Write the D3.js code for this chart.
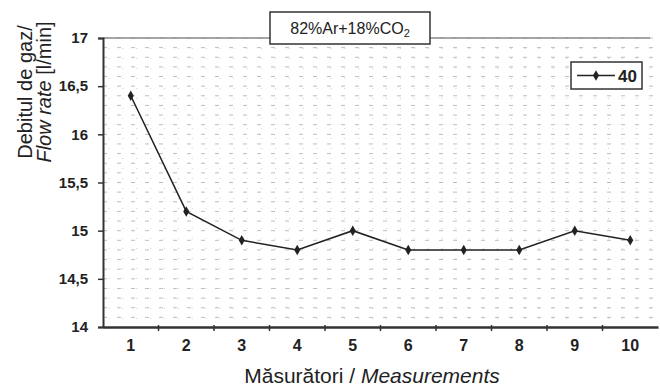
<!DOCTYPE html>
<html>
<head>
<meta charset="utf-8">
<script src="https://cdn.jsdelivr.net/npm/d3@7"></script>
<style>
  body { margin: 0; background: #fff; }
  text { font-family: "Liberation Sans", Arial, sans-serif; fill: #222; }
  .tick text { font-weight: bold; font-size: 15px; }
</style>
</head>
<body>
<svg id="chart" width="660" height="387"></svg>
<script>
// measurement numbers and flow rate readings
var measurements = [1, 2, 3, 4, 5, 6, 7, 8, 9, 10];
var flow40 = [16.4, 15.2, 14.9, 14.8, 15.0, 14.8, 14.8, 14.8, 15.0, 14.9];
var yTicks = [14, 14.5, 15, 15.5, 16, 16.5, 17];
var seriesName = "40";

var margin = {top: 38, right: 2, bottom: 60, left: 103},
    width = 660 - margin.left - margin.right,
    height = 387 - margin.top - margin.bottom;

var svg = d3.select("#chart");
var g = svg.append("g")
    .attr("transform", "translate(" + margin.left + "," + margin.top + ")");

var x = d3.scaleBand().domain(measurements).range([0, width]);
var y = d3.scaleLinear().domain([14, 17]).range([height, 0]);

// minor grid, horizontal every 0.1
var minor = d3.range(14.1, 17, 0.1);
g.selectAll("line.hgrid")
  .data(minor)
  .enter().append("line")
  .attr("class", "hgrid")
  .attr("x1", 0).attr("x2", width)
  .attr("y1", function(d) { return y(d); })
  .attr("y2", function(d) { return y(d); })
  .style("stroke", "#bdbdbd")
  .style("stroke-dasharray", "4,10");

// vertical dotted grid, a few per band
var vsteps = [];
measurements.forEach(function(m) {
  for (var k = 0; k < 4; k++) vsteps.push({m: m, k: k});
});
g.selectAll("line.vgrid")
  .data(vsteps)
  .enter().append("line")
  .attr("class", "vgrid")
  .attr("x1", function(d) { return x(d.m) + x.bandwidth() * d.k / 4 + 6; })
  .attr("x2", function(d) { return x(d.m) + x.bandwidth() * d.k / 4 + 6; })
  .attr("y1", 0).attr("y2", height)
  .style("stroke", "#d0d0d0")
  .style("stroke-dasharray", "1,9");

// top border
g.append("line")
  .attr("x1", 0).attr("x2", width - 8)
  .attr("y1", 0).attr("y2", 0)
  .style("stroke", "#888").style("stroke-width", 1.5);

// y axis
var yAxis = g.append("g")
  .call(d3.axisLeft(y).tickValues(yTicks).tickSize(5).tickPadding(10)
    .tickFormat(function(d) { return String(d).replace(".", ","); }));
yAxis.select(".domain").style("stroke", "#333").style("stroke-width", 2);
yAxis.selectAll(".tick line").style("stroke", "#333").style("stroke-width", 1.5);

// x axis
var xAxis = g.append("g")
  .attr("transform", "translate(0," + height + ")")
  .call(d3.axisBottom(x).tickSize(0).tickPadding(13));
xAxis.select(".domain").style("stroke", "#333").style("stroke-width", 2.5);
xAxis.selectAll(".tick line").remove();
xAxis.selectAll(".tick text").style("font-size", "16px");
g.selectAll("line.xtick")
  .data(measurements.slice(1))
  .enter().append("line")
  .attr("class", "xtick")
  .attr("x1", function(d) { return x(d); })
  .attr("x2", function(d) { return x(d); })
  .attr("y1", height - 2).attr("y2", height + 4)
  .style("stroke", "#333").style("stroke-width", 1.5);

// series line
var pts = measurements.map(function(m, i) { return {m: m, v: flow40[i]}; });
var line = d3.line()
  .x(function(d) { return x(d.m) + x.bandwidth() / 2; })
  .y(function(d) { return y(d.v); });
g.append("path")
  .datum(pts)
  .attr("d", line)
  .style("fill", "none")
  .style("stroke", "#222")
  .style("stroke-width", 1.5);

var diamond = d3.symbol().type(d3.symbolDiamond).size(32);
g.selectAll("path.pt")
  .data(pts)
  .enter().append("path")
  .attr("class", "pt")
  .attr("d", diamond)
  .attr("transform", function(d) {
    return "translate(" + (x(d.m) + x.bandwidth() / 2) + "," + y(d.v) + ")";
  })
  .style("fill", "#222");

// title box
svg.append("rect")
  .attr("x", 270).attr("y", 12).attr("width", 160).attr("height", 32)
  .style("fill", "#fff").style("stroke", "#333").style("stroke-width", 1.5);
var title = svg.append("text")
  .attr("x", 350).attr("y", 34)
  .attr("text-anchor", "middle")
  .style("font-size", "16px");
title.append("tspan").text("82%Ar+18%CO");
title.append("tspan").attr("dy", 3).style("font-size", "11px").text("2");

// legend
var leg = svg.append("g").attr("transform", "translate(571,62)");
leg.append("rect").attr("width", 71).attr("height", 27)
  .style("fill", "#fff").style("stroke", "#333").style("stroke-width", 1.5);
leg.append("line").attr("x1", 6).attr("x2", 44).attr("y1", 13.5).attr("y2", 13.5)
  .style("stroke", "#222").style("stroke-width", 1.5);
leg.append("path").attr("d", diamond).attr("transform", "translate(25,13.5)")
  .style("fill", "#222");
leg.append("text").attr("x", 47).attr("y", 20)
  .style("font-size", "17px").style("font-weight", "bold").text(seriesName);

// y title
var yt = svg.append("text")
  .attr("transform", "translate(0,92) rotate(-90)")
  .attr("text-anchor", "middle")
  .style("font-size", "20px");
yt.append("tspan").attr("x", 0).attr("y", 32).text("Debitul de gaz/");
yt.append("tspan").attr("x", 0).attr("y", 51).style("font-style", "italic").text("Flow rate");
yt.append("tspan").text(" [l/min]");

// x title
var xt = svg.append("text")
  .attr("x", 372).attr("y", 383)
  .attr("text-anchor", "middle")
  .style("font-size", "21px");
xt.append("tspan").text("Măsurători / ");
xt.append("tspan").style("font-style", "italic").text("Measurements");
</script>
</body>
</html>
